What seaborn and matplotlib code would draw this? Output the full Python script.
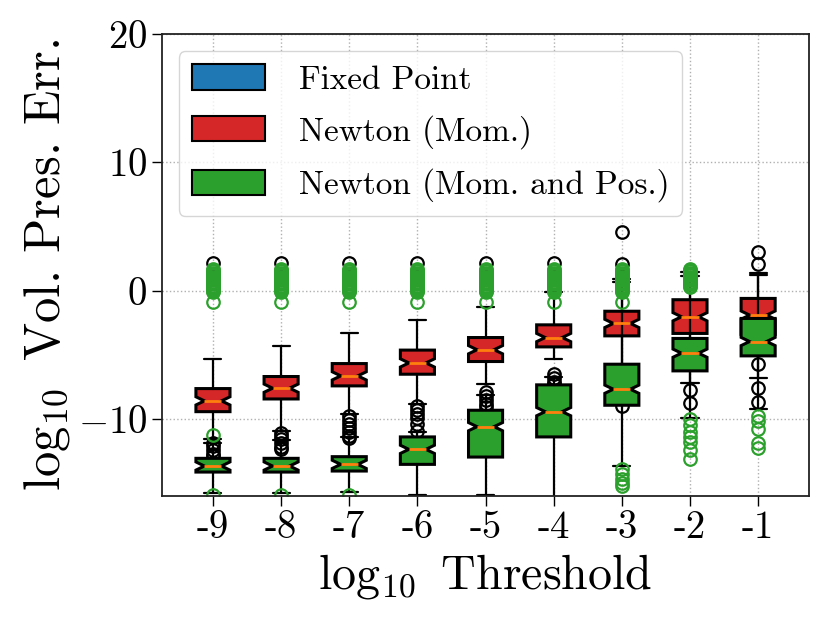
import matplotlib
matplotlib.use("Agg")
import matplotlib.pyplot as plt
from matplotlib.patches import Patch
import seaborn as sns

# x categories: log10 of the solver threshold
thresholds = [-9, -8, -7, -6, -5, -4, -3, -2, -1]
series_names = ["Fixed Point", "Newton (Mom.)", "Newton (Mom. and Pos.)"]

# Newton (Mom.) box statistics
mom_whishi = [-5.34, -4.3, -3.26, -2.29, -1.28, -0.1, 0.65, 1.12, 1.25]
mom_q3 = [-7.63, -6.69, -5.68, -4.63, -3.65, -2.66, -1.6, -0.7, -0.6]
mom_med = [-8.59, -7.6, -6.64, -5.63, -4.6, -3.65, -2.55, -2.03, -1.9]
mom_q1 = [-9.43, -8.44, -7.42, -6.51, -5.52, -4.38, -3.52, -3.33, -3.4]
mom_whislo = [-11.54, -10.94, -9.6, -8.8, -7.28, -5.34, -7.0, -7.2, -6.8]
mom_fliers = [
    [2.2, -11.85, -12.1, -12.4, -12.7, -12.9],
    [2.2, -11.07, -11.3, -11.6, -11.9, -12.2, -12.37],
    [2.2, -9.8, -10.1, -10.4, -10.7, -11.0, -11.3, -11.5],
    [2.2, -9.0, -9.3, -9.6, -9.9, -10.4, -10.9],
    [2.2, -7.9, -8.2, -8.5, -8.8, -9.1],
    [2.2, -6.5, -6.8, -7.1, -7.3],
    [4.6, 2.1, -9.0],
    [-7.76, -8.73],
    [3.0, 2.1, -5.7, -7.55, -8.7],
]

# Newton (Mom. and Pos.) box statistics
pos_whishi = [-11.85, -11.67, -11.4, -11.0, -8.1, -6.7, 0.94, 1.43, 1.4]
pos_q3 = [-13.07, -13.07, -12.94, -11.4, -9.32, -7.34, -5.73, -3.72, -2.16]
pos_med = [-13.67, -13.67, -13.54, -12.37, -10.6, -9.43, -7.68, -4.87, -3.96]
pos_q1 = [-14.14, -14.14, -14.06, -13.54, -12.97, -11.4, -8.93, -6.25, -5.08]
pos_whislo = [-15.76, -15.76, -15.68, -15.96, -15.96, -16.3, -13.67, -9.9, -9.2]
top_cluster = [-0.85, -0.1, 0.0, 0.1, 0.2, 0.3, 0.4, 0.5, 0.6, 0.7, 0.8,
               0.9, 1.0, 1.1, 1.2, 1.3, 1.4, 1.5, 1.6, 1.7]
pos_fliers = [
    top_cluster + [-11.27, -15.95],
    top_cluster + [-15.95],
    top_cluster + [-15.95],
    top_cluster,
    top_cluster,
    top_cluster,
    top_cluster + [-13.9, -14.3, -14.7, -15.0, -15.2],
    [0.3, 0.4, 0.5, 0.6, 0.7, 0.8, 0.9, 1.0, 1.1, 1.2, 1.3, 1.4, 1.5, 1.6,
     1.7, -10.0, -10.5, -11.0, -11.4, -11.8, -12.4, -13.1],
    [-9.77, -10.16, -10.8, -11.85, -12.24],
]
notch_half = 0.32


def make_stats(whishi, q3, med, q1, whislo, fliers):
    stats = []
    for i in range(len(med)):
        stats.append(dict(med=med[i], q1=q1[i], q3=q3[i],
                          whislo=whislo[i], whishi=whishi[i],
                          fliers=fliers[i],
                          cilo=med[i] - notch_half, cihi=med[i] + notch_half))
    return stats


sns.set_style("ticks")
plt.rcParams["font.family"] = ["cmr10", "DejaVu Serif"]
plt.rcParams["mathtext.fontset"] = "cm"
plt.rcParams["axes.formatter.use_mathtext"] = True
plt.rcParams["axes.unicode_minus"] = True
for key in ["text.color", "axes.labelcolor", "xtick.color", "ytick.color"]:
    plt.rcParams[key] = "black"

palette = sns.color_palette("tab10")
colors = [palette[0], palette[3], palette[2]]

fig = plt.figure(figsize=(8.3, 6.23), dpi=100)
ax = fig.add_axes([0.195, 0.204, 0.78, 0.741])

positions = list(range(1, len(thresholds) + 1))

for stats, color, fl_color in [
    (make_stats(mom_whishi, mom_q3, mom_med, mom_q1, mom_whislo, mom_fliers), colors[1], "black"),
    (make_stats(pos_whishi, pos_q3, pos_med, pos_q1, pos_whislo, pos_fliers), colors[2], colors[2]),
]:
    ax.bxp(stats, positions=positions, widths=0.5, shownotches=True,
           patch_artist=True,
           boxprops=dict(facecolor=color, edgecolor="black", linewidth=2.2),
           whiskerprops=dict(color="black", linewidth=1.6),
           capprops=dict(color="black", linewidth=1.6),
           medianprops=dict(color="#ff7f0e", linewidth=2),
           flierprops=dict(marker="o", markerfacecolor="none",
                           markeredgecolor=fl_color, markersize=9,
                           markeredgewidth=1.6))

ax.set_xlim(0.25, len(thresholds) + 0.75)
ax.set_ylim(-16, 20)
ax.set_yticks([-10, 0, 10, 20])
ax.set_xticks(positions)
ax.set_xticklabels([str(t) for t in thresholds])
ax.grid(True, linestyle=":", color="#b0b0b0", linewidth=1)
ax.set_axisbelow(True)
ax.tick_params(labelsize=28, length=7, width=1, direction="out")
for sp in ax.spines.values():
    sp.set_color("#222222")
    sp.set_linewidth(1.3)

ax.set_xlabel(r"$\log_{10}$ Threshold", fontsize=34.5)
ax.set_ylabel(r"$\log_{10}$ Vol. Pres. Err.", fontsize=36.5)

handles = [Patch(facecolor=c, edgecolor="black", linewidth=1.5) for c in colors]
ax.legend(handles, series_names, loc="upper left", fontsize=24,
          handlelength=2.2, handleheight=0.8, handletextpad=1.0,
          labelspacing=0.6, fancybox=True, framealpha=0.8, edgecolor="0.8")

plt.savefig("out.png", dpi=100)
plt.close()
